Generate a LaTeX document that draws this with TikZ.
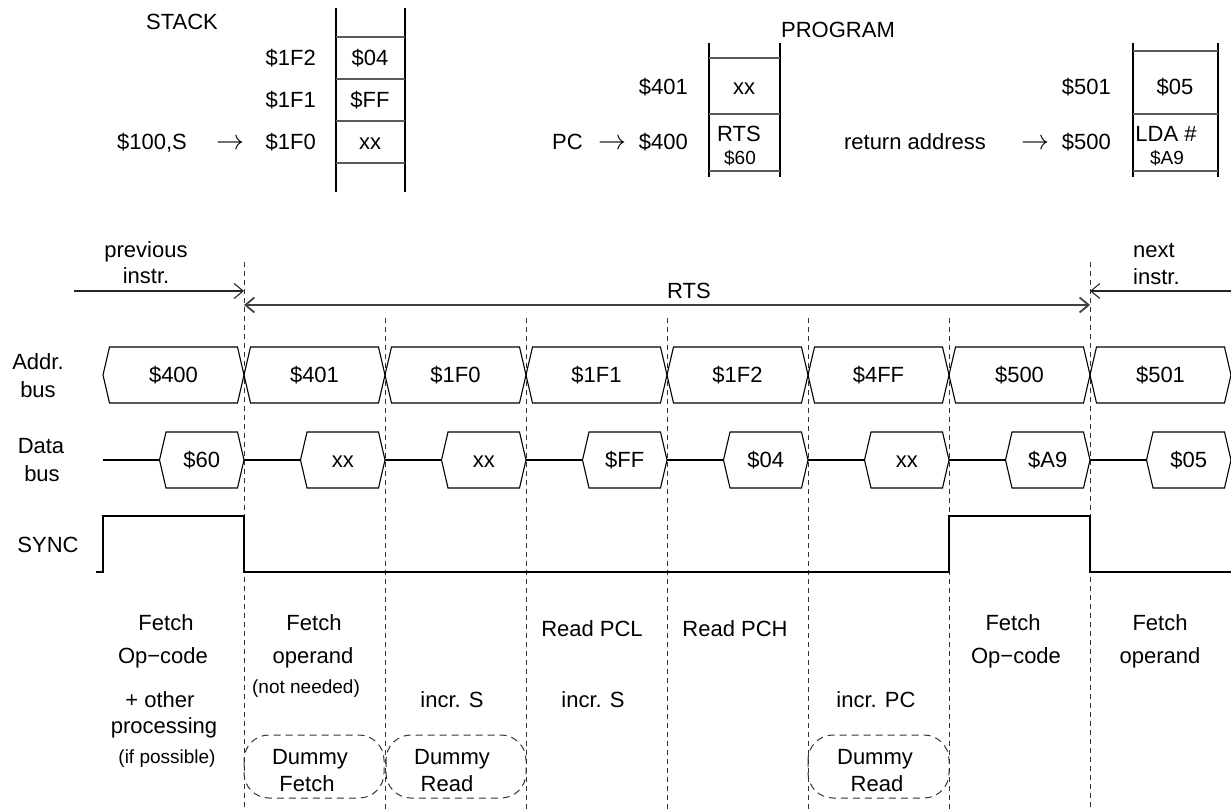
\documentclass[tikz,border=0pt]{standalone}
\usepackage{fontspec}
\usepackage{graphicx}
\setmainfont{Liberation Sans}
\usetikzlibrary{arrows.meta}
\begin{document}
\begin{tikzpicture}[x=1pt,y=-1pt,
  txt/.style={font=\fontsize{22}{26}\selectfont, inner sep=0pt, text height=15.8pt, text depth=0pt},
  sm/.style={font=\fontsize{19}{22}\selectfont, inner sep=0pt, text height=13.6pt, text depth=0pt},
  wire/.style={line width=1.1pt, line join=miter},
  cell/.style={line width=1.1pt, draw=black!65},
  cyc/.style={line width=0.9pt, dash pattern=on 5pt off 4pt, draw=black!80},
  dummy/.style={line width=1pt, dash pattern=on 7pt off 5pt, rounded corners=25pt, draw=black!80},
  arr/.style={-{Straight Barb[length=9pt,width=15pt]}, line width=1.1pt, draw=black!85},
  rtsarr/.style={{Straight Barb[length=9pt,width=15pt]}-{Straight Barb[length=9pt,width=15pt]}, line width=1.8pt, draw=black!75}
]
\useasboundingbox (0,0) rectangle (1231,810);

% ---------------- STACK ----------------
\node[txt] (stack) at (182,22) {STACK};
\draw[wire] (336,8) -- (336,192) (405,8) -- (405,192);
\foreach \y in {37,79,121,163} \draw[cell] (336,\y) -- (405,\y);
\node[txt, anchor=east] (a1f2) at (316,58) {\$1F2};
\node[txt, anchor=east] (a1f1) at (316,100) {\$1F1};
\node[txt, anchor=east] (a1f0) at (316,142) {\$1F0};
\node[txt] (v04) at (370,58) {\$04};
\node[txt] (vff) at (370,100) {\$FF};
\node[txt] (vxx) at (370,142) {xx};
\node[txt] (s100) at (152,142) {\$100,S};
\node[txt] (sarr) at (230,142) {\scalebox{1.35}{$\rightarrow$}};

% ---------------- PROGRAM ----------------
\node[txt] (program) at (838,30) {PROGRAM};
\draw[wire] (709,43) -- (709,177) (780,43) -- (780,177);
\foreach \y in {58,114,171} \draw[cell] (709,\y) -- (780,\y);
\node[txt, anchor=east] (a401) at (688,87) {\$401};
\node[txt, anchor=east] (a400) at (688,142) {\$400};
\node[txt] (p401) at (744,87) {xx};
\node[txt] (prts) at (739,134) {RTS};
\node[sm] (p60) at (740,158) {\$60};
\node[txt, anchor=east] (pc) at (583,142) {PC};
\node[txt] (parr) at (612,142) {\scalebox{1.35}{$\rightarrow$}};

\draw[wire] (1133,43) -- (1133,177) (1218,43) -- (1218,177);
\foreach \y in {51,114,171} \draw[cell] (1133,\y) -- (1218,\y);
\node[txt, anchor=east] (a501) at (1111,87) {\$501};
\node[txt, anchor=east] (a500) at (1111,142) {\$500};
\node[txt] (p05) at (1175,87) {\$05};
\node[txt] (plda) at (1166,134) {LDA \#};
\node[sm] (pa9) at (1167,158) {\$A9};
\node[txt] (ret) at (915,142) {return address};
\node[txt] (rarr) at (1035,142) {\scalebox{1.35}{$\rightarrow$}};

% ---------------- cycle lines ----------------
\draw[cyc] (244,262) -- (244,810);
\draw[cyc] (1090,262) -- (1090,810);
\foreach \x in {385,526,667,808,949} \draw[cyc] (\x,318) -- (\x,810);

% ---------------- instruction arrows ----------------
\node[txt] (prev1) at (146,250) {previous};
\node[txt] (prev2) at (146,276) {instr.};
\coordinate (pstart) at (74,291);
\coordinate (pend) at (244,291);
\draw[arr] (pstart) -- (pend);
\node[txt] (rtslab) at (689,291) {RTS};
\coordinate (rs) at (244,305);
\coordinate (re) at (1090,305);
\draw[rtsarr] (rs) -- (re);
\node[txt, anchor=west] (next1) at (1133,250) {next};
\node[txt, anchor=west] (next2) at (1133,277) {instr.};
\coordinate (nstart) at (1231,291);
\coordinate (nend) at (1090,291);
\draw[arr] (nstart) -- (nend);

% ---------------- signal labels ----------------
\node[txt] (addr1) at (38,362) {Addr.};
\node[txt] (addr2) at (38,390) {bus};
\node[txt] (data1) at (41,446) {Data};
\node[txt] (data2) at (42,474) {bus};
\node[txt] (sync) at (48,545) {SYNC};

% ---------------- buses ----------------
\foreach \i/\ad/\dt in {0/\$400/\$60,1/\$401/xx,2/\$1F0/xx,3/\$1F1/\$FF,4/\$1F2/\$04,5/\$4FF/xx,6/\$500/\$A9,7/\$501/\$05}{
  \pgfmathsetmacro\a{103+141*\i}
  \pgfmathsetmacro\b{\a+141}
  \draw[wire] (\a,375) -- (\a+6.5,347) -- (\b-6.5,347) -- (\b,375) -- (\b-6.5,403) -- (\a+6.5,403) -- cycle;
  \node[txt] (ad\i) at ({(\a+\b)/2},375) {\ad};
  \draw[wire] (\a,460) -- (\b-84.5,460);
  \draw[wire] (\b-84.5,460) -- (\b-78,432) -- (\b-6.5,432) -- (\b,460) -- (\b-6.5,488) -- (\b-78,488) -- cycle;
  \node[txt] (dt\i) at (\b-42.25,460) {\dt};
}

% ---------------- SYNC ----------------
\draw[wire] (96,572) -- (103,572) -- (103,516) -- (244,516) -- (244,572) -- (949,572) -- (949,516) -- (1090,516) -- (1090,572) -- (1231,572);

% ---------------- descriptions ----------------
\node[txt] (c1a) at (166,623) {Fetch};
\node[txt] (c1b) at (163,656) {Op−code};
\node[txt] (c1c) at (160,700) {+ other};
\node[txt] (c1d) at (164,726) {processing};
\node[sm] (c1e) at (167,757) {(if possible)};

\node[txt] (c2a) at (314,623) {Fetch};
\node[txt] (c2b) at (313,656) {operand};
\node[sm] (c2c) at (306,687) {(not needed)};
\draw[dummy] (244,735) rectangle (384,798);
\node[txt] (c2d) at (310,757) {Dummy};
\node[txt] (c2e) at (307,784) {Fetch};

\node[txt] (c3a) at (452,700) {incr. S};
\draw[dummy] (386,735) rectangle (526,798);
\node[txt] (c3b) at (452,757) {Dummy};
\node[txt] (c3c) at (447,784) {Read};

\node[txt] (c4a) at (592,629) {Read PCL};
\node[txt] (c4b) at (593,700) {incr. S};

\node[txt] (c5a) at (735,629) {Read PCH};

\node[txt] (c6a) at (876,700) {incr. PC};
\draw[dummy] (808,735) rectangle (949,798);
\node[txt] (c6b) at (875,757) {Dummy};
\node[txt] (c6c) at (877,784) {Read};

\node[txt] (c7a) at (1013,623) {Fetch};
\node[txt] (c7b) at (1016,656) {Op−code};

\node[txt] (c8a) at (1160,623) {Fetch};
\node[txt] (c8b) at (1160,656) {operand};
\end{tikzpicture}
\end{document}
